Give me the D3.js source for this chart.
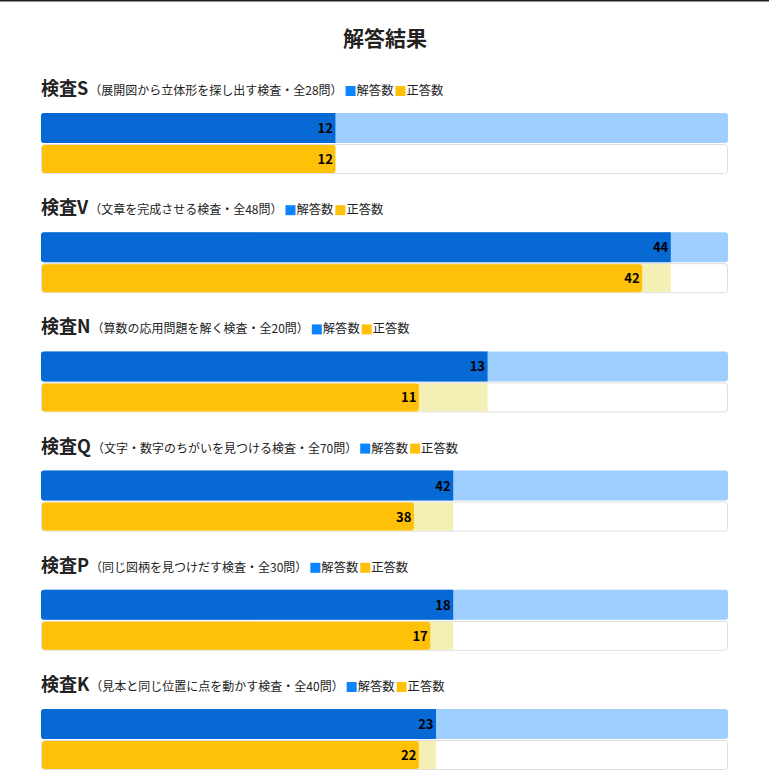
<!DOCTYPE html>
<html><head><meta charset="utf-8">
<script src="https://cdn.jsdelivr.net/npm/d3@7"></script>
<style>
html,body{margin:0;padding:0;background:#fff;}
svg{display:block;font-family:"Noto Sans CJK JP","Noto Sans",sans-serif;}
</style></head>
<body>
<script>
const chartTitle = "解答結果";
const testNames = ["検査S","検査V","検査N","検査Q","検査P","検査K"];
const descriptions = ["展開図から立体形を探し出す検査","文章を完成させる検査","算数の応用問題を解く検査","文字・数字のちがいを見つける検査","同じ図柄を見つけだす検査","見本と同じ位置に点を動かす検査"];
const totals = [28,48,20,70,30,40];
const answered = [12,44,13,42,18,23];
const correct = [12,42,11,38,17,22];
const legendLabels = ["解答数","正答数"];

const W = 769, H = 781;
const svg = d3.select("body").append("svg").attr("width", W).attr("height", H);

svg.append("rect").attr("x",0).attr("y",0).attr("width",W).attr("height",1.5).attr("fill","#222");

svg.append("text").attr("x", 385).attr("y", 46).attr("text-anchor","middle")
  .attr("font-size", 21).attr("font-weight","bold").attr("fill","#222").text(chartTitle);

const x0 = 41, x1 = 728, sectionGap = 119.2, top0 = 0;
const colors = {blue:"#0769d4", lightBlue:"#9ecfff", yellow:"#ffc107", lightYellow:"#f4f0b5", legendBlue:"#0a84ff", legendYellow:"#ffc107"};

testNames.forEach((name, i) => {
  const g = svg.append("g").attr("transform", `translate(0,${top0 + i*sectionGap})`);
  const x = d3.scaleLinear().domain([0, totals[i]]).range([x0, x1]);

  const head = g.append("text").attr("x", x0).attr("y", 95).attr("fill","#222");
  head.append("tspan").attr("font-size", 18).attr("font-weight","bold").text(name);
  head.append("tspan").attr("font-size", 12).attr("dx", 1).text(`（${descriptions[i]}・全${totals[i]}問）`);
  const hw = head.node().getComputedTextLength();

  let lx = x0 + hw + 4;
  [[colors.legendBlue, legendLabels[0]],[colors.legendYellow, legendLabels[1]]].forEach(([c,t]) => {
    g.append("rect").attr("x", lx).attr("y", 86).attr("width", 10).attr("height", 10).attr("fill", c);
    const tt = g.append("text").attr("x", lx + 11).attr("y", 95).attr("font-size", 12.3).attr("fill","#222").text(t);
    lx += 11 + tt.node().getComputedTextLength() + 2;
  });

  // answered bar
  g.append("rect").attr("x", x0).attr("y", 113).attr("width", x1 - x0).attr("height", 30)
    .attr("rx", 3).attr("fill", colors.lightBlue);
  g.append("path").attr("fill", colors.blue)
    .attr("d", `M${x0+3},113 H${x(answered[i])} V143 H${x0+3} Q${x0},143 ${x0},140 V116 Q${x0},113 ${x0+3},113 Z`);
  g.append("text").attr("x", x(answered[i]) - 2.5).attr("y", 133).attr("text-anchor","end")
    .attr("font-size", 13).attr("font-weight","bold").attr("fill","#000").text(answered[i]);

  // correct bar
  g.append("rect").attr("x", x0 + 0.5).attr("y", 144.5).attr("width", x1 - x0 - 1).attr("height", 29)
    .attr("rx", 3).attr("fill", "#fff").attr("stroke", "#dedede");
  g.append("rect").attr("x", x0 + 1).attr("y", 145).attr("width", x(answered[i]) - x0 - 1).attr("height", 28)
    .attr("fill", colors.lightYellow);
  g.append("rect").attr("x", x0 + 1).attr("y", 145).attr("width", x(correct[i]) - x0 - 1).attr("height", 28)
    .attr("rx", 3).attr("fill", colors.yellow);
  g.append("text").attr("x", x(correct[i]) - 2.5).attr("y", 164).attr("text-anchor","end")
    .attr("font-size", 13).attr("font-weight","bold").attr("fill","#000").text(correct[i]);
});
</script>
</body></html>
